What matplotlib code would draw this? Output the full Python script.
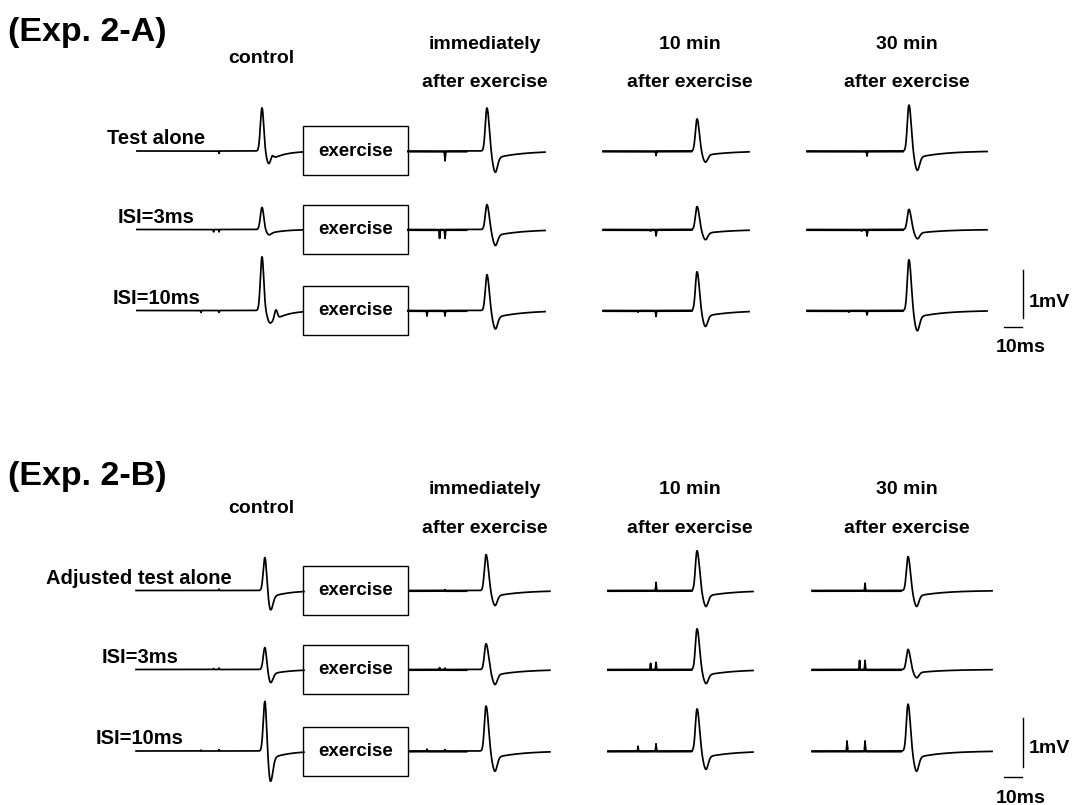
import numpy as np
import matplotlib
matplotlib.use("Agg")
import matplotlib.pyplot as plt
from matplotlib.patches import Rectangle

plt.rcParams["font.family"] = ["Liberation Sans", "DejaVu Sans"]
plt.rcParams["font.weight"] = "bold"

W, H = 1076, 805
PX_PER_MS = 1.8      # 10 ms scale bar = 18 px
PX_PER_MV = 48.0     # 1 mV scale bar = 48 px

PANEL_TITLES = ["(Exp. 2-A)", "(Exp. 2-B)"]
COLUMN_TITLES = ["control", "immediately", "10 min", "30 min"]
COLUMN_SUBTITLE = "after exercise"
ROW_LABELS_A = ["Test alone", "ISI=3ms", "ISI=10ms"]
ROW_LABELS_B = ["Adjusted test alone", "ISI=3ms", "ISI=10ms"]
ISI_MS = [0.0, 3.0, 10.0]

# M-wave values in mV, indexed [column][row]
PEAK_A = [[0.90, 0.46, 1.12], [0.90, 0.52, 0.75], [0.67, 0.48, 0.81], [0.96, 0.42, 1.06]]
TROUGH_A = [[0.25, 0.10, 0.19], [0.44, 0.33, 0.38], [0.23, 0.21, 0.33], [0.40, 0.19, 0.42]]
TAIL_A = [[0.22, 0.09, 0.31], [0.15, 0.13, 0.15], [0.09, 0.08, 0.12], [0.14, 0.08, 0.14]]
PEAK_B = [[0.69, 0.46, 1.04], [0.75, 0.54, 0.94], [0.83, 0.85, 0.88], [0.71, 0.42, 0.98]]
TROUGH_B = [[0.40, 0.27, 0.63], [0.31, 0.31, 0.42], [0.33, 0.29, 0.38], [0.33, 0.17, 0.42]]
TAIL_B = [[0.14, 0.10, 0.16], [0.12, 0.12, 0.14], [0.12, 0.12, 0.13], [0.12, 0.07, 0.14]]

# late wiggle on the control responses of Exp. 2-A (ms after trough, mV)
RIPPLE_DT_A = [2.2, 0.0, 4.4]
RIPPLE_AMP_A = [0.09, 0.0, 0.19]

# stimulus artefacts in mV (negative = downward deflection)
TEST_ART_A = [[-0.05, -0.05, -0.04], [-0.19, -0.17, -0.10], [-0.08, -0.12, -0.11], [-0.09, -0.12, -0.08]]
COND_ART_A = [[0.0, -0.05, -0.04], [0.0, -0.17, -0.10], [0.0, -0.02, -0.02], [0.0, -0.02, -0.02]]
TEST_ART_B = [[0.03, 0.03, 0.03], [0.02, 0.03, 0.03], [0.17, 0.15, 0.15], [0.15, 0.19, 0.21]]
COND_ART_B = [[0.0, 0.02, 0.02], [0.0, 0.04, 0.04], [0.0, 0.13, 0.10], [0.0, 0.19, 0.21]]

# latency of the M-wave peak, peak-to-trough delay and tail decay (ms), per column
LATENCY_A = [23.9, 23.3, 22.8, 23.3]
DELAY_A = [3.3, 4.4, 4.4, 4.4]
TAU_A = [8.0, 15.0, 15.0, 15.0]
LATENCY_B = [25.5, 22.8, 22.8, 23.9]
DELAY_B = [3.0, 4.7, 4.7, 4.5]
TAU_B = [10.0, 15.0, 15.0, 15.0]

# sweep windows (ms relative to the test stimulus), per column
WINDOW_A = [(-45.6, 46.7), (-20.6, 55.6), (-29.4, 51.7), (-33.3, 66.7)]
WINDOW_B = [(-46.1, 47.2), (-20.0, 58.3), (-26.7, 53.9), (-29.4, 70.6)]


def gauss(t, mu, sigma):
    return np.exp(-0.5 * ((t - mu) / sigma) ** 2)


def skew_gauss(t, mu, s_left, s_right):
    sigma = np.where(t < mu, s_left, s_right)
    return np.exp(-0.5 * ((t - mu) / sigma) ** 2)


def m_wave(t, lat, delay, tau, peak, trough, tail, rip_dt=0.0, rip_amp=0.0):
    td = lat + delay
    k = delay / 4.4
    v = peak * skew_gauss(t, lat, 0.9, 1.25 * k)
    v -= max(trough - 0.4 * tail, 0.03) * skew_gauss(t, td, 1.45 * k, 1.3)
    rise = 1.0 / (1.0 + np.exp(-(t - td - 0.3) / 0.6))
    v -= tail * rise * np.exp(-np.clip(t - td, 0, None) / tau)
    if rip_amp:
        v += rip_amp * gauss(t, td + rip_dt, 0.8)
    return v


def trace_axes(fig, x_stim, y_base, t0, t1):
    """Axes in ms / mV whose origin sits at (x_stim, y_base) in pixels."""
    v_lo, v_hi = -1.2, 1.5
    left = x_stim + t0 * PX_PER_MS
    width = (t1 - t0) * PX_PER_MS
    top = y_base - v_hi * PX_PER_MV
    height = (v_hi - v_lo) * PX_PER_MV
    ax = fig.add_axes((left / W, 1 - (top + height) / H, width / W, height / H))
    ax.set_xlim(t0, t1)
    ax.set_ylim(v_lo, v_hi)
    ax.set_axis_off()
    ax.patch.set_visible(False)
    return ax


fig = plt.figure(figsize=(W / 100, H / 100), dpi=100)
bg = fig.add_axes((0, 0, 1, 1))
bg.set_xlim(0, W)
bg.set_ylim(H, 0)
bg.set_axis_off()

panels = [
    dict(title=PANEL_TITLES[0], rows=ROW_LABELS_A, peak=PEAK_A, trough=TROUGH_A, tail=TAIL_A,
         test_art=TEST_ART_A, cond_art=COND_ART_A, lat=LATENCY_A, delay=DELAY_A, tau=TAU_A,
         window=WINDOW_A, ripple=(RIPPLE_DT_A, RIPPLE_AMP_A),
         x_stim=[219, 445, 656, 867], y_base=[151, 229.5, 310.5],
         title_y=41, control_y=63, head_y=(49, 87), label_x=[107, 118, 113],
         bar=dict(x=86.7, v=(-0.16, 0.84), h_v=-0.34, h_t=(76.1, 86.1),
                  mv=(90.0, 0.07), ms=(71.7, -0.86))),
    dict(title=PANEL_TITLES[1], rows=ROW_LABELS_B, peak=PEAK_B, trough=TROUGH_B, tail=TAIL_B,
         test_art=TEST_ART_B, cond_art=COND_ART_B, lat=LATENCY_B, delay=DELAY_B, tau=TAU_B,
         window=WINDOW_B, ripple=None,
         x_stim=[219, 445, 656, 865], y_base=[590.5, 669.5, 751],
         title_y=485, control_y=513, head_y=(494, 533), label_x=[46, 102, 96],
         bar=dict(x=87.8, v=(-0.33, 0.69), h_v=-0.54, h_t=(77.2, 87.2),
                  mv=(91.1, -0.04), ms=(72.8, -1.08))),
]

head_x = [261, 485, 690, 907]
box_x0, box_w, box_h = 303, 105, 49
lw = 1.25

for p in panels:
    bg.text(8, p["title_y"], p["title"], fontsize=24.5, fontweight="bold", va="baseline", ha="left")
    bg.text(head_x[0], p["control_y"], COLUMN_TITLES[0], fontsize=14, va="baseline", ha="center")
    for c in range(1, 4):
        bg.text(head_x[c], p["head_y"][0], COLUMN_TITLES[c], fontsize=14, va="baseline", ha="center")
        bg.text(head_x[c], p["head_y"][1], COLUMN_SUBTITLE, fontsize=14, va="baseline", ha="center")

    for r, label in enumerate(p["rows"]):
        yb = p["y_base"][r]
        bg.text(p["label_x"][r], yb - 7, label, fontsize=14.5, va="baseline", ha="left")
        bg.add_patch(Rectangle((box_x0, yb - box_h / 2), box_w, box_h,
                               fill=False, edgecolor="black", linewidth=1.0))
        bg.text(box_x0 + box_w / 2, yb, "exercise", fontsize=13.5, va="center", ha="center")

        for c in range(4):
            t0, t1 = p["window"][c]
            ax = trace_axes(fig, p["x_stim"][c], yb, t0, t1)
            t = np.arange(t0, t1, 0.02)
            rip_dt, rip_amp = 0.0, 0.0
            if p["ripple"] is not None and c == 0:
                rip_dt, rip_amp = p["ripple"][0][r], p["ripple"][1][r]
            v = m_wave(t, p["lat"][c], p["delay"][c], p["tau"][c],
                       p["peak"][c][r], p["trough"][c][r], p["tail"][c][r], rip_dt, rip_amp)
            v += p["test_art"][c][r] * gauss(t, 0.0, 0.12)
            if ISI_MS[r]:
                v += p["cond_art"][c][r] * gauss(t, -ISI_MS[r], 0.12)
            ax.plot(t, v, color="black", linewidth=lw, clip_on=False)
            if c > 0:
                # superimposed sweeps thicken the pre-response baseline
                seg = t < (12.0 if c == 1 else 20.0)
                ax.plot(t[seg], v[seg] - 0.015, color="black", linewidth=lw, clip_on=False)

            if c == 3 and r == 2:
                b = p["bar"]
                ax.plot([b["x"], b["x"]], b["v"], color="black", linewidth=1.0, clip_on=False)
                ax.plot(b["h_t"], [b["h_v"], b["h_v"]], color="black", linewidth=1.0, clip_on=False)
                ax.text(b["mv"][0], b["mv"][1], "1mV", fontsize=14, va="baseline", ha="left")
                ax.text(b["ms"][0], b["ms"][1], "10ms", fontsize=14, va="baseline", ha="left")

fig.savefig("out.png", dpi=100)
